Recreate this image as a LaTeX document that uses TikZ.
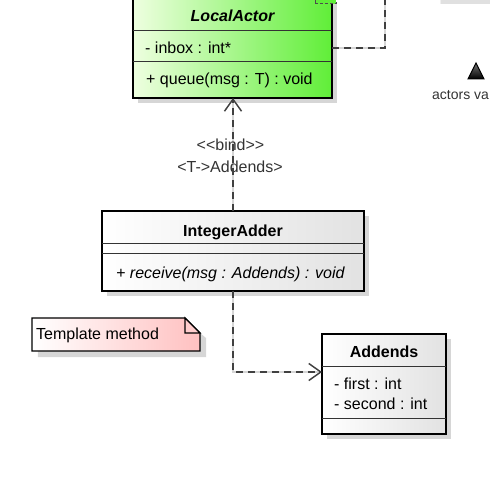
\documentclass[tikz,border=0pt]{standalone}
\usepackage{fontspec}
\setmainfont{Liberation Sans}
\usetikzlibrary{arrows.meta,calc,backgrounds}
\definecolor{greenL}{RGB}{238,255,224}
\definecolor{greenR}{RGB}{96,238,56}
\definecolor{grayR}{RGB}{226,226,226}
\definecolor{pinkR}{RGB}{255,192,192}
\definecolor{shadowc}{RGB}{214,214,214}
\definecolor{linec}{RGB}{64,64,64}
\begin{document}
\begin{tikzpicture}[x=1bp,y=-1bp,
  classbox/.style={draw=black, line width=2.5bp, inner sep=0pt, outer sep=0pt},
  compsep/.style={draw=black!80, line width=1bp},
  umltext/.style={font=\fontsize{16bp}{19bp}\selectfont, inner sep=0pt, anchor=base west, text=black},
  umlname/.style={font=\fontsize{16bp}{19bp}\selectfont\bfseries, inner sep=0pt, anchor=base, text=black},
  lbltext/.style={font=\fontsize{16bp}{19bp}\selectfont, inner sep=0pt, anchor=base, text=black!80},
  dep/.style={draw=linec, line width=1.4bp, dash pattern=on 7bp off 5bp},
  deparrow/.style={dep, -{Straight Barb[length=12bp,width=17bp,line width=1.4bp]}},
  shadowline/.style={draw=shadowc, line width=1.3bp},
  shadowarrow/.style={shadowline, -{Straight Barb[length=12bp,width=17bp,line width=1.3bp]}},
  shadowbox/.style={fill=shadowc}
]
\useasboundingbox (0,0) rectangle (490,478);

% top right partial elements
\fill[black!12] (440,-6) rectangle (496,4);
\draw[black!6, line width=1bp] (440.5,-6) -- (440.5,4);

% classes
\node[classbox, minimum width=199bp, minimum height=100bp, left color=greenL, right color=greenR] (la) at (232.5,48) {};
\draw[compsep] (la.west |- 0,31) -- (la.east |- 0,31);
\draw[compsep] (la.west |- 0,62) -- (la.east |- 0,62);
\node[umlname, font=\fontsize{16bp}{19bp}\selectfont\bfseries\itshape] (laname) at (232.5,22) {LocalActor};
\node[umltext] (laattr) at (145,54) {- inbox : int*};
\node[umltext] (laop) at (146,85) {+ queue(msg : T) : void};
\node[draw=black!70, dash pattern=on 3bp off 2bp, line width=1bp, fill=greenR, minimum width=21bp, minimum height=16bp, inner sep=0pt] (tparam) at (325.5,-4) {};

\node[classbox, minimum width=262bp, minimum height=80bp, left color=white, right color=grayR] (ia) at (233,251) {};
\draw[compsep] (ia.west |- 0,243) -- (ia.east |- 0,243);
\draw[compsep] (ia.west |- 0,253) -- (ia.east |- 0,253);
\node[umlname] (ianame) at (233,236) {IntegerAdder};
\node[umltext, font=\fontsize{16bp}{19bp}\selectfont\itshape] (iaop) at (116,278) {+ receive(msg : Addends) : void};

\node[classbox, minimum width=124bp, minimum height=100bp, left color=white, right color=grayR] (ad) at (384,384) {};
\draw[compsep] (ad.west |- 0,366) -- (ad.east |- 0,366);
\draw[compsep] (ad.west |- 0,418) -- (ad.east |- 0,418);
\node[umlname] (adname) at (384,357) {Addends};
\node[umltext] (adattr1) at (334,389) {- first : int};
\node[umltext] (adattr2) at (334,409) {- second : int};

% note
\node[inner sep=0pt, outer sep=0pt, minimum width=168bp, minimum height=33bp] (nt) at (116,334.5) {};
\draw[line width=1.4bp, left color=white, right color=pinkR]
  (nt.north west) -- ($(nt.north east)+(-15,0)$) -- ($(nt.north east)+(0,15)$) -- (nt.south east) -- (nt.south west) -- cycle;
\draw[line width=1.2bp, fill=pinkR!80!white]
  ($(nt.north east)+(-15,0)$) -- ($(nt.north east)+(-15,15)$) -- ($(nt.north east)+(0,15)$) -- cycle;
\node[umltext] (nttext) at (36,339) {Template method};

% connector labels
\node[lbltext] (bindlbl) at (230.5,151) {<{}<bind>{}>};
\node[lbltext] (maplbl) at (230,173) {<T->{}Addends>};

% legend fragment
\filldraw[draw=black, line width=1bp, top color=black!55, bottom color=black] (468,79) -- (484,79) -- (476,63) -- cycle;
\node[inner sep=0pt, anchor=base west, font=\fontsize{14bp}{17bp}\selectfont, text=black!80] (actlbl) at (432,100) {actors va};

% connectors
\coordinate (loopup) at (385,-6);
\coordinate (bend) at ($(ad.west)+(0,-12)$);
\draw[deparrow] (ia.north) -- (ia.north |- la.south);
\draw[deparrow] (ia.south) |- (bend);
\draw[dep] (la.east) -| (loopup);

% shadows
\begin{scope}[on background layer]
  \fill[shadowbox] ($(la.north west)+(5,6)$) rectangle ($(la.south east)+(5,5)$);
  \fill[shadowbox] ($(ia.north west)+(5,5)$) rectangle ($(ia.south east)+(5,5)$);
  \fill[shadowbox] ($(ad.north west)+(5,5)$) rectangle ($(ad.south east)+(5,5)$);
  \fill[shadowbox] ($(nt.north east)+(6,20)$) -- ($(nt.south east)+(6,6)$) -- ($(nt.south west)+(6,6)$) -- ($(nt.south west)+(6,0)$) -- ($(nt.south east)+(0,0)$) -- ($(nt.north east)+(0,15)$) -- cycle;
  \begin{scope}[shift={(6,0)}]
    \draw[shadowarrow] (ia.north) -- (ia.north |- la.south);
  \end{scope}
  \begin{scope}[shift={(5,6)}]
    \draw[shadowarrow] (ia.south) |- (bend);
  \end{scope}
  \begin{scope}[shift={(7,6)}]
    \draw[shadowline] (la.east) -| (loopup);
  \end{scope}
\end{scope}
\end{tikzpicture}
\end{document}
